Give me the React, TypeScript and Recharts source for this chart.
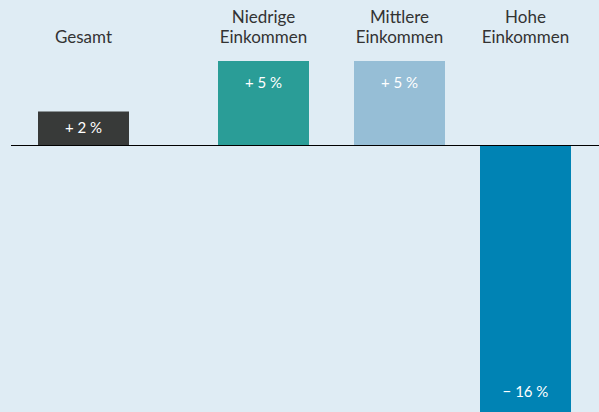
import { Bar, BarChart, Cell, LabelList, ReferenceLine, XAxis, YAxis } from 'recharts'

const categories = ['Gesamt', 'Niedrige Einkommen', 'Mittlere Einkommen', 'Hohe Einkommen']
const changes = [2, 5, 5, -16]
const colors = ['#383a39', '#2a9d97', '#96bed6', '#0083b4']

// each bar sits in its own transparent panel so the uneven spacing can be kept
const panelLeft = [11, 156, 309, 452]
const panelWidth = [145, 215, 181, 147]

const FONT = 'Lato, "Open Sans", sans-serif'

function formatValue(v: number) {
  return v >= 0 ? `+ ${v} %` : `\u2212 ${Math.abs(v)} %`
}

function CategoryTick(props: any) {
  const { x, payload } = props
  const lines = String(payload.value).split(' ')
  return (
    <text x={x} textAnchor="middle" fill="#333" fontSize={17} fontFamily={FONT}>
      {lines.map((line, i) => (
        <tspan key={i} x={x} y={43 - 20 * (lines.length - 1 - i)}>
          {line}
        </tspan>
      ))}
    </text>
  )
}

function ValueLabel(props: any) {
  const { x, y, width, height, value } = props
  const top = Math.min(y, y + height)
  const bottom = Math.max(y, y + height)
  const inset = Math.min(22, (bottom - top) / 2)
  const cy = value >= 0 ? top + inset : bottom - inset
  return (
    <text x={x + width / 2} y={cy} dy="0.35em" textAnchor="middle" fill="#fff" fontSize={15} fontFamily={FONT}>
      {formatValue(value)}
    </text>
  )
}

export default function App() {
  return (
    <div
      style={{
        position: 'absolute',
        left: 0,
        top: 0,
        width: 599,
        height: 412,
        overflow: 'hidden',
        background: '#dfecf4',
      }}
    >
      {categories.map((name, i) => (
        <div key={name} style={{ position: 'absolute', left: panelLeft[i], top: 0 }}>
          <BarChart
            width={panelWidth[i]}
            height={414}
            data={[{ name, value: changes[i] }]}
            margin={{ top: 0, right: 0, bottom: 0, left: 0 }}
          >
            <XAxis
              dataKey="name"
              orientation="top"
              height={61}
              axisLine={false}
              tickLine={false}
              tick={<CategoryTick />}
              interval={0}
            />
            <YAxis hide domain={[-16, 5]} allowDataOverflow />
            <Bar dataKey="value" barSize={91} isAnimationActive={false}>
              <Cell fill={colors[i]} />
              <LabelList dataKey="value" content={<ValueLabel />} />
            </Bar>
            <ReferenceLine y={0} stroke="#000" strokeWidth={1} shapeRendering="crispEdges" />
          </BarChart>
        </div>
      ))}
    </div>
  )
}
